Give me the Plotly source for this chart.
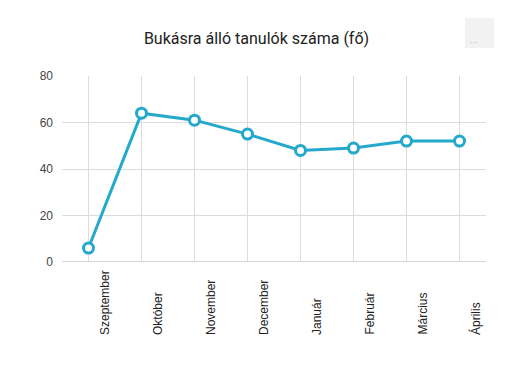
import plotly.graph_objects as go

months = ["Szeptember", "Október", "November", "December", "Január", "Február", "Március", "Április"]
students = [6, 64, 61, 55, 48, 49, 52, 52]
y_ticks = [0, 20, 40, 60, 80]

title_text = "Bukásra álló tanulók száma (fő)"
line_color = "#24a8cc"

# page body has an 8px margin; figure coordinates are reference pixels minus 8
OFF = 8
W, H = 509 - OFF, 372 - OFF
l, t = 62 - OFF, 76 - OFF
r = W - (486 - OFF)
b = H - (262 - OFF)
pw, ph = W - l - r, H - t - b


def px2paper_x(px):
    return (px - OFF - l) / pw


def px2paper_y(py):
    return (H - b - (py - OFF)) / ph


fig = go.Figure()
fig.add_trace(go.Scatter(
    x=months, y=students, mode="lines+markers",
    line=dict(color=line_color, width=3),
    marker=dict(symbol="circle", size=10, color="white",
                line=dict(color=line_color, width=3)),
    hoverinfo="x+y", showlegend=False,
))

annotations = []
for m in months:
    annotations.append(dict(
        x=m, xref="x", y=0, yref="paper", yshift=-75, xshift=16,
        text=m, textangle=-90, showarrow=False,
        xanchor="center", yanchor="bottom",
        font=dict(family="Liberation Sans, Arial, sans-serif", size=12, color="#222222"),
    ))
annotations.append(dict(
    x=px2paper_x((465 + 494) / 2), y=px2paper_y(33), xref="paper", yref="paper",
    text="···", showarrow=False, font=dict(size=10, color="#c8c8c8"),
))

fig.update_layout(
    width=W, height=H,
    margin=dict(l=l, r=r, t=t, b=b),
    paper_bgcolor="white", plot_bgcolor="white",
    title=dict(text=title_text, x=(256.5 - OFF) / W, xref="container", xanchor="center",
               y=1 - (38 - OFF) / H, yanchor="middle",
               font=dict(family="Roboto, sans-serif", size=16, color="#222222")),
    xaxis=dict(
        type="category", range=[-0.5, 7.5],
        showgrid=True, gridcolor="#dcdcdc", gridwidth=1,
        showticklabels=False, showline=False, zeroline=False, ticks="",
    ),
    yaxis=dict(
        range=[0, 80], tickvals=y_ticks,
        showgrid=True, gridcolor="#dcdcdc", gridwidth=1,
        zeroline=False, showline=False, ticks="",
        tickfont=dict(family="Liberation Sans, Arial, sans-serif", size=12, color="#444444"),
        ticklabelstandoff=8,
    ),
    annotations=annotations,
    shapes=[
        dict(type="line", xref="paper", yref="y", x0=0, x1=1, y0=0, y1=0,
             line=dict(color="#aaaaaa", width=1), layer="below"),
        dict(type="rect", xref="paper", yref="paper",
             x0=px2paper_x(465), x1=px2paper_x(494), y0=px2paper_y(48), y1=px2paper_y(18),
             fillcolor="#f2f2f2", line=dict(width=0)),
    ],
)

fig.write_html("out.html")
